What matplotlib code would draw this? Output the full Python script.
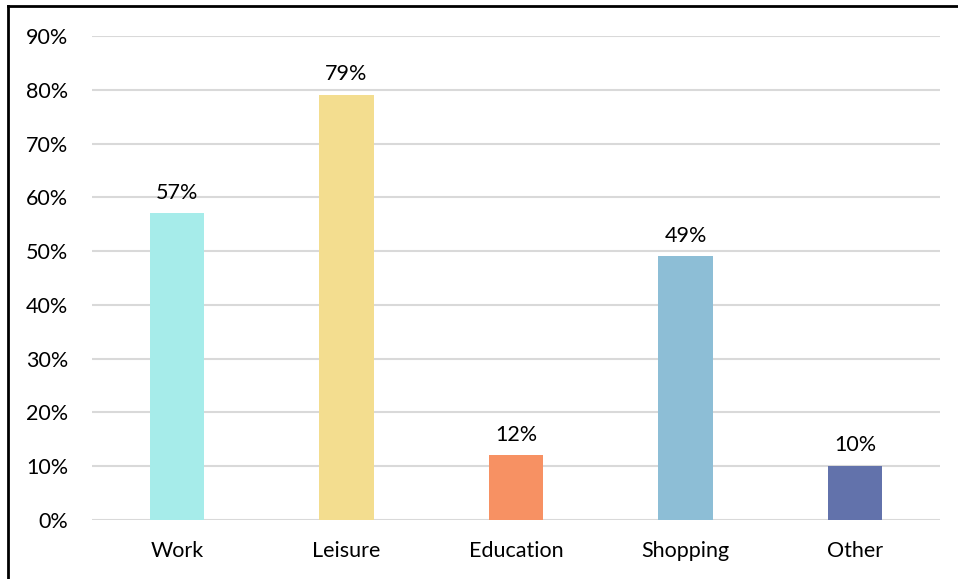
import matplotlib
matplotlib.use("Agg")
import matplotlib.pyplot as plt
from matplotlib.lines import Line2D
from matplotlib.ticker import PercentFormatter

plt.rcParams["font.family"] = ["Lato", "DejaVu Sans"]

categories = ["Work", "Leisure", "Education", "Shopping", "Other"]
shares = [57, 79, 12, 49, 10]
bar_colors = ["#A6ECEA", "#F3DD8F", "#F79163", "#8DBED6", "#6272AB"]
y_ticks = [0, 10, 20, 30, 40, 50, 60, 70, 80, 90]

W, H = 958, 579
fig = plt.figure(figsize=(W / 100, H / 100), dpi=100)
ax = fig.add_axes([92 / W, 1 - 520 / H, 848 / W, (520 - 36) / H])

x = range(len(categories))
ax.bar(x, shares, width=0.32, color=bar_colors, zorder=3)
for xi, v in zip(x, shares):
    ax.text(xi, v + 2.0, f"{v}%", ha="center", va="bottom", fontsize=15.5, color="black")

ax.set_xlim(-0.5, len(categories) - 0.5)
ax.set_ylim(0, 90)
ax.set_yticks(y_ticks)
ax.yaxis.set_major_formatter(PercentFormatter(decimals=0))
ax.set_xticks(list(x))
ax.set_xticklabels(categories)
ax.tick_params(axis="both", length=0, labelsize=15.5, colors="black")
ax.tick_params(axis="y", pad=17)
ax.tick_params(axis="x", pad=15)
ax.grid(axis="y", color="#D9D9D9", linewidth=1.5, zorder=0)
for side in ["top", "right", "left", "bottom"]:
    ax.spines[side].set_visible(False)

# outer frame edges
fig.add_artist(Line2D([8 / W, 8 / W], [0, 1 - 6 / H], color="black", linewidth=2))
fig.add_artist(Line2D([8 / W, 1], [1 - 6 / H, 1 - 6 / H], color="black", linewidth=2))

fig.savefig("out.png", dpi=100)
